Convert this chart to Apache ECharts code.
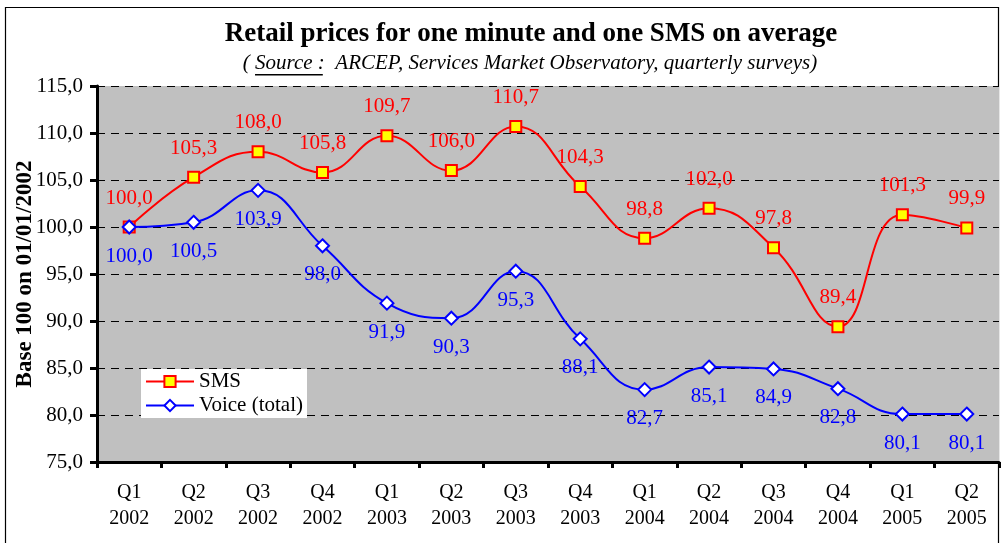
<!DOCTYPE html>
<html>
<head>
<meta charset="utf-8">
<script src="https://cdn.jsdelivr.net/npm/echarts@6/dist/echarts.min.js"></script>
<style>
  html, body { margin: 0; padding: 0; background: #fff; }
  #chart { width: 1003px; height: 543px; }
</style>
</head>
<body>
<div id="chart"></div>
<script>
// ─── Data ───────────────────────────────────────────────────────────────────
const quarters = ['Q1', 'Q2', 'Q3', 'Q4', 'Q1', 'Q2', 'Q3', 'Q4', 'Q1', 'Q2', 'Q3', 'Q4', 'Q1', 'Q2'];
const years = ['2002', '2002', '2002', '2002', '2003', '2003', '2003', '2003', '2004', '2004', '2004', '2004', '2005', '2005'];
const smsValues = [100.0, 105.3, 108.0, 105.8, 109.7, 106.0, 110.7, 104.3, 98.8, 102.0, 97.8, 89.4, 101.3, 99.9];
const voiceValues = [100.0, 100.5, 103.9, 98.0, 91.9, 90.3, 95.3, 88.1, 82.7, 85.1, 84.9, 82.8, 80.1, 80.1];

const categories = quarters.map((q, i) => q + '\n' + years[i]);
const SERIF = '"Liberation Serif", "DejaVu Serif", serif';
const fmt = v => v.toFixed(1).replace('.', ',');

// ─── Subtitle pieces (underlined "Source :") ────────────────────────────────
const SUB_FONT = 'italic 21px ' + SERIF;
const subParts = ['( ', 'Source :', '  ARCEP, Services Market Observatory, quarterly surveys)'];
const ctx = document.createElement('canvas').getContext('2d');
ctx.font = SUB_FONT;
const subWidths = subParts.map(s => ctx.measureText(s).width);
const subTotal = subWidths.reduce((a, b) => a + b, 0);
const subCenter = 530;
let subX = subCenter - subTotal / 2;
const subY = 63;
const subGraphics = [];
subParts.forEach((s, i) => {
  subGraphics.push({
    type: 'text', x: subX, y: subY, silent: true,
    style: { text: s, font: SUB_FONT, fill: '#000', textVerticalAlign: 'middle' },
  });
  if (i === 1) {
    subGraphics.push({
      type: 'rect', x: subX, y: subY + 11, silent: true,
      shape: { x: 0, y: 0, width: subWidths[i] - 2, height: 1.5 },
      style: { fill: '#000' },
    });
  }
  subX += subWidths[i];
});

const chart = echarts.init(document.getElementById('chart'), null, { renderer: 'canvas' });

chart.setOption({
  animation: false,
  backgroundColor: '#fff',
  textStyle: { fontFamily: SERIF },
  graphic: [
    {
      type: 'rect', z: -10, silent: true,
      shape: { x: 5.5, y: 7.5, width: 993, height: 560 },
      style: { fill: 'none', stroke: '#000', lineWidth: 1.2 },
    },
    {
      type: 'text', x: 531, y: 34, silent: true,
      style: {
        text: 'Retail prices for one minute and one SMS on average',
        font: 'bold 27px ' + SERIF, fill: '#000',
        textAlign: 'center', textVerticalAlign: 'middle',
      },
    },
    ...subGraphics,
  ],
  grid: {
    left: 97, right: 4, top: 86, bottom: 81,
    outerBoundsMode: 'none', containLabel: false,
    backgroundColor: '#c0c0c0', show: true, borderWidth: 0,
  },
  legend: {
    orient: 'vertical',
    left: 141, top: 369,
    backgroundColor: '#fff',
    padding: [2, 4, 2, 4],
    itemGap: 3,
    itemWidth: 48,
    itemHeight: 14,
    textStyle: { fontFamily: SERIF, fontSize: 21, color: '#000' },
    data: ['SMS', 'Voice (total)'],
  },
  xAxis: {
    type: 'category',
    data: categories,
    boundaryGap: true,
    axisLine: { lineStyle: { color: '#000', width: 3 } },
    axisTick: { show: true, length: 6, lineStyle: { color: '#000', width: 3 } },
    axisLabel: { color: '#000', fontFamily: SERIF, fontSize: 20, lineHeight: 26, margin: 18, interval: 0 },
  },
  yAxis: {
    type: 'value',
    min: 75, max: 115, interval: 5,
    name: 'Base 100 on 01/01/2002',
    nameLocation: 'middle',
    nameGap: 60,
    nameMoveOverlap: false,
    nameTextStyle: { fontFamily: SERIF, fontSize: 23, fontWeight: 'bold', color: '#000' },
    axisLine: { show: true, lineStyle: { color: '#000', width: 3 } },
    axisTick: { show: true, length: 7, lineStyle: { color: '#000', width: 3 } },
    axisLabel: { color: '#000', fontFamily: SERIF, fontSize: 21, margin: 14, formatter: v => fmt(v) },
    splitLine: { show: true, lineStyle: { color: '#000', type: [8, 6], width: 1 } },
  },
  series: [
    {
      name: 'SMS',
      type: 'line',
      data: smsValues,
      smooth: 0.45,
      symbol: 'rect',
      symbolSize: 11,
      lineStyle: { color: '#ff0000', width: 2 },
      itemStyle: { color: '#ffff00', borderColor: '#ff0000', borderWidth: 2 },
      label: {
        show: true, position: 'top', distance: 12,
        color: '#ff0000', fontFamily: SERIF, fontSize: 21,
        formatter: p => fmt(p.value),
      },
      z: 3,
    },
    {
      name: 'Voice (total)',
      type: 'line',
      data: voiceValues,
      smooth: 0.45,
      symbol: 'diamond',
      symbolSize: 13,
      lineStyle: { color: '#0000ff', width: 2 },
      itemStyle: { color: '#ffffff', borderColor: '#0000ff', borderWidth: 2 },
      label: {
        show: true, position: 'bottom', distance: 11,
        color: '#0000ff', fontFamily: SERIF, fontSize: 21,
        formatter: p => fmt(p.value),
      },
      z: 4,
    },
  ],
});
</script>
</body>
</html>
